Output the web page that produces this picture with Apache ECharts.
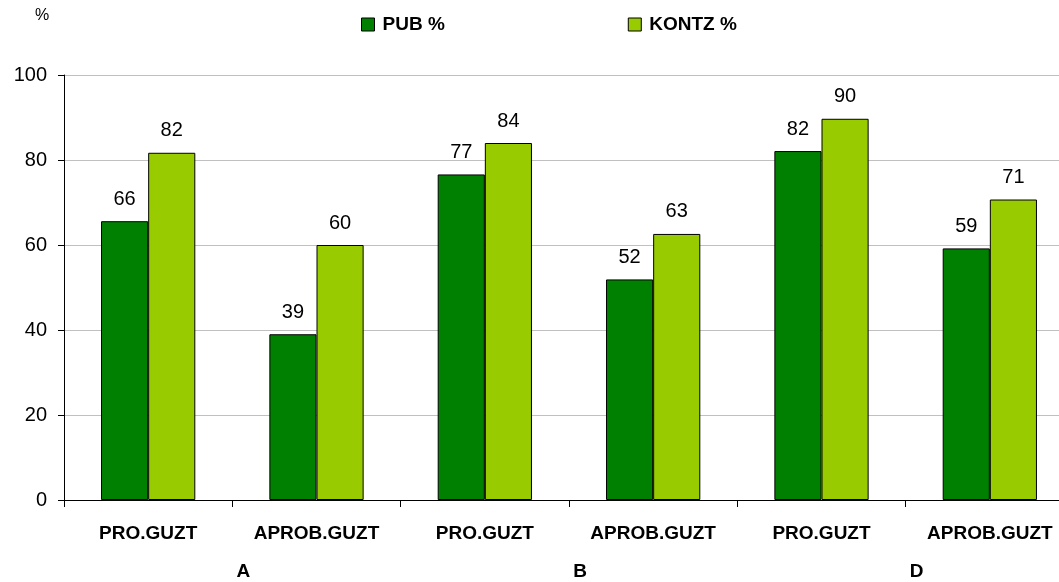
<!DOCTYPE html>
<html lang="eu">
<head>
	<meta charset="UTF-8">
	<title>PUB / KONTZ</title>
	<style>
		html, body { margin: 0; padding: 0; background: #fff; overflow: hidden; }
	</style>
</head>
<body>
	<!-- grafikoa eskuinean apur bat mozten da, jatorrizkoan bezala -->
	<div id="main" style="width: 1074px;height:582px;"></div>
</body>
</html>

<script src='https://cdn.jsdelivr.net/npm/echarts@6/dist/echarts.min.js'></script>
<script>

		var categories = ['PRO.GUZT', 'APROB.GUZT', 'PRO.GUZT', 'APROB.GUZT', 'PRO.GUZT', 'APROB.GUZT'];
		var groups = ['A', 'B', 'D'];
		var pubValues = [65.6, 39.0, 76.6, 51.9, 82.1, 59.2];
		var kontzValues = [81.7, 60.0, 84.0, 62.6, 89.7, 70.7];
		var yTicks = [0, 20, 40, 60, 80, 100];

		var font = '"Liberation Sans", Arial, sans-serif';

		var myChart = echarts.init(document.getElementById('main'));

		// etiketa biribilduak barren gainean
		var valueLabel = {
			show: true,
			position: 'top',
			distance: 12,
			color: '#000',
			fontFamily: font,
			fontSize: 20,
			formatter: function (p) { return Math.round(p.value); }
		};

		var option = {
			animation: false,
			textStyle: { fontFamily: font },
			title: {
				text: '%',
				left: 35,
				top: 8,
				padding: 0,
				textStyle: { fontSize: 16, fontWeight: 'normal', color: '#000', fontFamily: font }
			},
			legend: {
				left: 361,
				top: 15,
				padding: 0,
				icon: 'rect',
				itemWidth: 13,
				itemHeight: 13,
				itemGap: 183,
				itemStyle: { borderColor: '#000', borderWidth: 1 },
				textStyle: { fontSize: 19, fontWeight: 'bold', color: '#000', fontFamily: font, padding: [0, 0, 0, 3] },
				data: ['PUB %', 'KONTZ %']
			},
			grid: {
				left: 64,
				right: 0,
				top: 75,
				bottom: 82,
				containLabel: false
			},
			xAxis: [{
				type: 'category',
				data: categories,
				axisLine: { lineStyle: { color: '#000', width: 1 } },
				axisTick: { show: true, length: 7, lineStyle: { color: '#000' } },
				axisLabel: {
					interval: 0,
					margin: 24,
					color: '#000',
					fontSize: 19,
					fontWeight: 'bold',
					fontFamily: font
				}
			}, {
				type: 'category',
				data: groups,
				position: 'bottom',
				offset: 40,
				axisLine: { show: false },
				axisTick: { show: false },
				axisLabel: {
					interval: 0,
					margin: 22,
					color: '#000',
					fontSize: 19,
					fontWeight: 'bold',
					fontFamily: font,
					padding: [0, 0, 0, 22]
				}
			}],
			yAxis: {
				type: 'value',
				min: yTicks[0],
				max: yTicks[yTicks.length - 1],
				interval: 20,
				axisLine: { show: true, lineStyle: { color: '#000', width: 1 } },
				axisTick: { show: true, length: 6, lineStyle: { color: '#000' } },
				axisLabel: { margin: 17, color: '#000', fontSize: 20, fontFamily: font },
				splitLine: { lineStyle: { color: '#c0c0c0', width: 1 } }
			},
			series: [{
				name: 'PUB %',
				type: 'bar',
				xAxisIndex: 0,
				data: pubValues,
				barGap: '0%',
				barCategoryGap: '44%',
				itemStyle: { color: '#008000', borderColor: '#000', borderWidth: 1 },
				label: valueLabel
			}, {
				name: 'KONTZ %',
				type: 'bar',
				xAxisIndex: 0,
				data: kontzValues,
				barGap: '0%',
				barCategoryGap: '44%',
				itemStyle: { color: '#99cc00', borderColor: '#000', borderWidth: 1 },
				label: valueLabel
			}]
		};
		myChart.setOption(option);

	</script>
